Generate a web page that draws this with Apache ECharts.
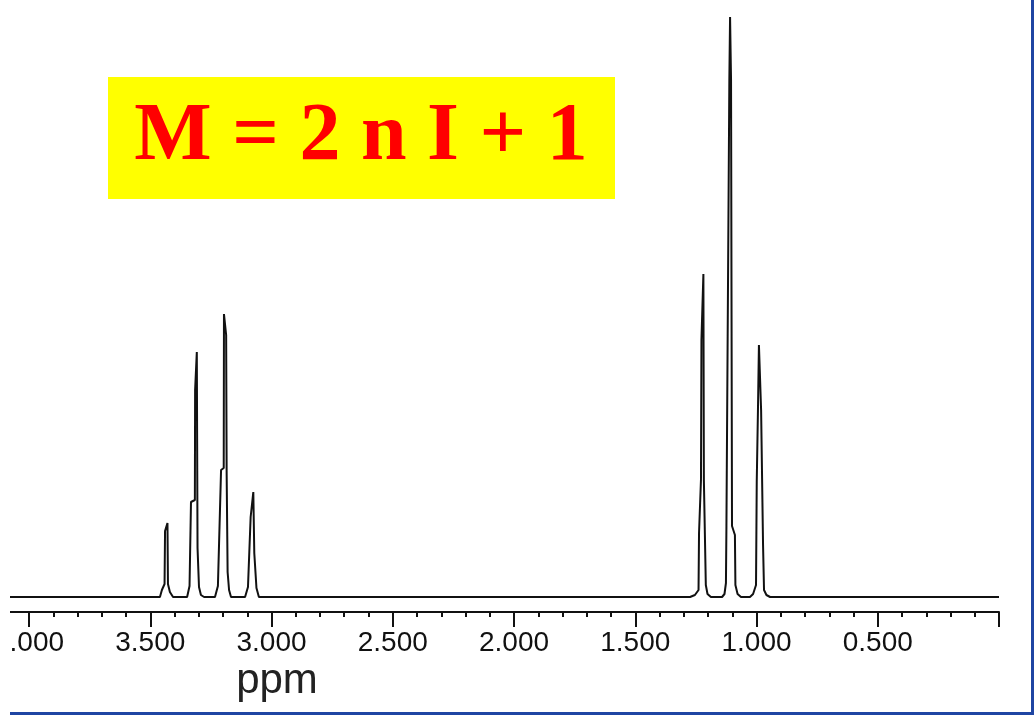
<!DOCTYPE html>
<html>
<head>
<meta charset="utf-8">
<title>NMR spectrum</title>
<script src="https://cdn.jsdelivr.net/npm/echarts@6/dist/echarts.min.js"></script>
<style>
  html, body { margin: 0; padding: 0; background: #fff; overflow: hidden; }
  #frame {
    position: absolute; left: 10px; top: 0; width: 1024px; height: 715px;
    box-sizing: border-box; border-right: 3px solid #1f45a3; border-bottom: 3px solid #1f45a3;
    overflow: hidden;
  }
  #chart { position: absolute; left: -110px; top: 0; width: 1140px; height: 712px; }
</style>
</head>
<body>
<div id="frame"><div id="chart"></div></div>
<script>
// spectrum trace: chemical shift (ppm) and intensity
var ppmValues = [
  4.5, 3.460, 3.452, 3.441, 3.439, 3.429, 3.427, 3.419, 3.406,
  3.348, 3.338, 3.332, 3.316, 3.315, 3.308, 3.305, 3.299, 3.291, 3.278,
  3.233, 3.221, 3.208, 3.197, 3.196, 3.187, 3.185, 3.181, 3.175, 3.167,
  3.109, 3.097, 3.086, 3.075, 3.071, 3.062, 3.052,
  1.274, 1.254, 1.239, 1.237, 1.229, 1.227, 1.219, 1.217, 1.209, 1.202, 1.188,
  1.142, 1.132, 1.126, 1.124, 1.112, 1.109, 1.105, 1.101, 1.089, 1.087, 1.078, 1.064,
  1.027, 1.014, 1.002, 0.999, 0.994, 0.990, 0.981, 0.973, 0.969, 0.959, 0.944,
  0.0
];
var intensityValues = [
  0, 0, 7, 13, 66, 74, 13, 5, 0,
  0, 11, 95, 97, 207, 245, 49, 10, 2, 0,
  0, 11, 127, 129, 283, 262, 125, 25, 7, 0,
  0, 10, 80, 105, 44, 9, 0,
  0, 2, 7, 64, 117, 257, 323, 117, 12, 3, 0,
  0, 3, 14, 71, 517, 580, 517, 71, 62, 12, 3, 0,
  0, 3, 12, 115, 187, 252, 187, 52, 7, 2, 0,
  0
];
var tickLabels = ['4.000', '3.500', '3.000', '2.500', '2.000', '1.500', '1.000', '0.500'];
var axisName = 'ppm';
var titleText = 'M = 2 n I + 1';

document.addEventListener('DOMContentLoaded', function () {
  var chart = echarts.init(document.getElementById('chart'));

  var points = ppmValues.map(function (p, i) { return [p, intensityValues[i]]; });

  var option = {
    animation: false,
    grid: { left: 7.75, right: 41, top: 12, bottom: 100 },
    xAxis: {
      type: 'value',
      inverse: true,
      min: 0,
      max: 4.5,
      interval: 0.5,
      axisLine: { onZero: false, lineStyle: { color: '#111', width: 2 } },
      axisTick: { length: 15, lineStyle: { color: '#111', width: 2 } },
      minorTick: { show: true, splitNumber: 5, length: 5, lineStyle: { color: '#111', width: 2 } },
      splitLine: { show: false },
      axisLabel: {
        margin: 17,
        color: '#111',
        fontSize: 28,
        fontFamily: '"Liberation Sans", sans-serif',
        formatter: function (v) {
          var s = v.toFixed(3);
          return tickLabels.indexOf(s) >= 0 ? s : '';
        }
      }
    },
    yAxis: { type: 'value', min: -15, max: 585, show: false },
    series: [{
      type: 'line',
      data: points,
      showSymbol: false,
      lineStyle: { color: '#111', width: 2 }
    }],
    graphic: [
      {
        type: 'rect',
        shape: { x: 208, y: 77, width: 507, height: 122 },
        style: { fill: '#ffff00' }
      },
      {
        type: 'text',
        x: 461, y: 138,
        style: {
          text: titleText,
          fill: '#ff0000',
          font: 'bold 82px "Liberation Serif", serif',
          textAlign: 'center',
          textVerticalAlign: 'middle'
        }
      },
      {
        type: 'text',
        x: 377, y: 681,
        style: {
          text: axisName,
          fill: '#222',
          font: '42px "Liberation Sans", sans-serif',
          textAlign: 'center',
          textVerticalAlign: 'middle'
        }
      }
    ]
  };
  chart.setOption(option);
});
</script>
</body>
</html>
